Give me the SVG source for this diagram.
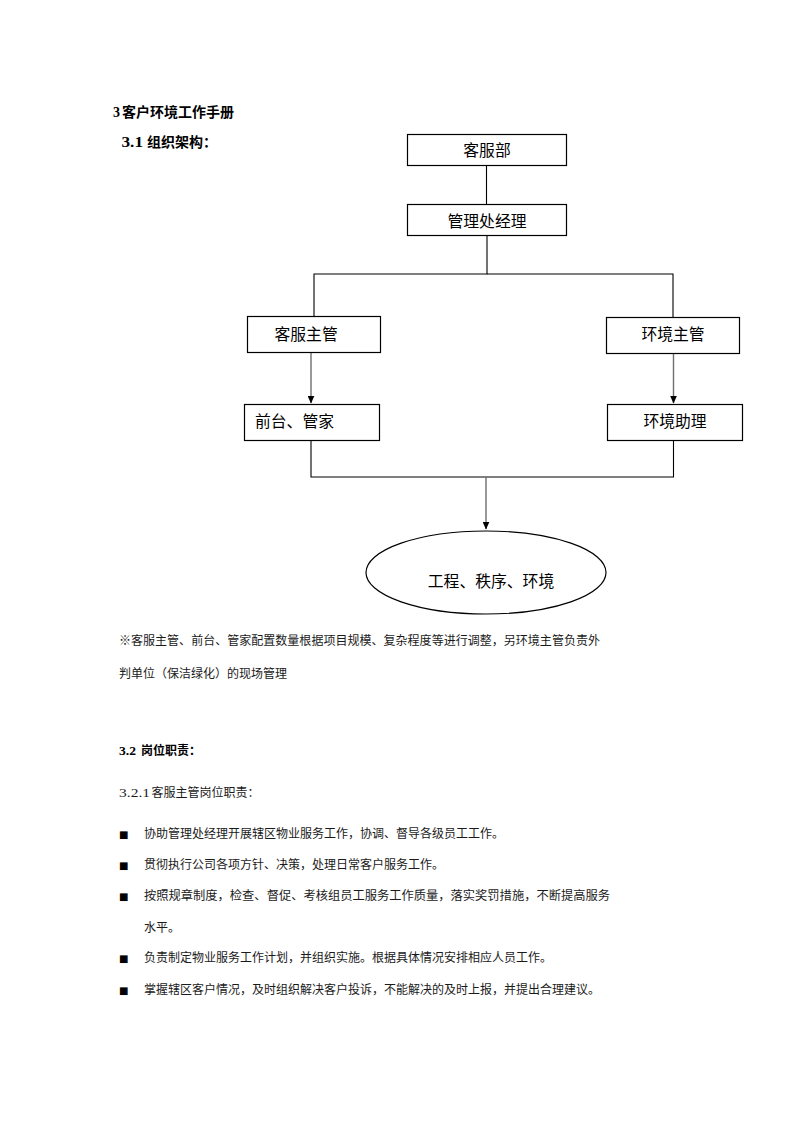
<svg xmlns="http://www.w3.org/2000/svg" width="793" height="1122" viewBox="0 0 793 1122">
<style>
.bg{fill:#ffffff}
.box{fill:#ffffff;stroke:#000000;stroke-width:1.2}
.lbl{font-family:"Liberation Sans","Noto Sans CJK SC",sans-serif;font-size:15.8px;fill:#000000}
.conn{fill:none;stroke:#000000;stroke-width:1.1}
.arr{fill:none;stroke:#6e6e6e;stroke-width:1.4}
.body{font-family:"Liberation Serif","Noto Sans CJK SC",serif;font-size:12px;fill:#1a1a1a}
.head{font-family:"Liberation Serif","Noto Sans CJK SC",serif;font-weight:bold;fill:#000000}
.bul{font-family:"DejaVu Sans",sans-serif;font-size:10px;fill:#000000}
</style>
<defs>
<marker id="ah" markerWidth="8" markerHeight="7" refX="7.5" refY="3.5" orient="auto" markerUnits="userSpaceOnUse">
<path d="M0,0 L8,3.5 L0,7 Z" fill="#000000"/>
</marker>
</defs>
<rect class="bg" x="0" y="0" width="793" height="1122"/>

<text class="head" font-size="14" x="113" y="117">3</text>
<text class="head" font-size="14" x="122" y="117">客户环境工作手册</text>
<text class="head" font-size="14" x="121.5" y="147" textLength="21.5" lengthAdjust="spacingAndGlyphs">3.1</text>
<text class="head" font-size="14" x="147" y="147">组织架构：</text>

<g id="connectors">
<line class="conn" x1="486.5" y1="165" x2="486.5" y2="205"/>
<polyline class="conn" points="487,236 487,274 314,274 314,317"/>
<polyline class="conn" points="487,274 673,274 673,318"/>
<line class="arr" x1="311" y1="352" x2="311" y2="403" marker-end="url(#ah)"/>
<line class="arr" x1="673.5" y1="353" x2="673.5" y2="403" marker-end="url(#ah)"/>
<polyline class="conn" points="311,440 311,477 673.5,477 673.5,440"/>
<line class="arr" x1="486" y1="477" x2="486" y2="529" marker-end="url(#ah)"/>
</g>

<g id="node-kefubu">
<rect class="box" x="407.5" y="134.5" width="159" height="31"/>
<text class="lbl" x="487" y="156" text-anchor="middle">客服部</text>
</g>
<g id="node-jingli">
<rect class="box" x="407.5" y="204.5" width="159" height="31"/>
<text class="lbl" x="487" y="226.5" text-anchor="middle">管理处经理</text>
</g>
<g id="node-kefuzhuguan">
<rect class="box" x="247.5" y="316.5" width="133" height="36"/>
<text class="lbl" x="274.5" y="339.5">客服主管</text>
</g>
<g id="node-huanjingzhuguan">
<rect class="box" x="606.5" y="317.5" width="133" height="36"/>
<text class="lbl" x="673" y="339.5" text-anchor="middle">环境主管</text>
</g>
<g id="node-qiantai">
<rect class="box" x="244.5" y="404.5" width="135" height="36"/>
<text class="lbl" x="255" y="427">前台、管家</text>
</g>
<g id="node-huanjingzhuli">
<rect class="box" x="607.5" y="404.5" width="135" height="36"/>
<text class="lbl" x="675" y="427" text-anchor="middle">环境助理</text>
</g>
<g id="node-gongcheng">
<ellipse class="box" cx="486" cy="572.5" rx="120" ry="41.5"/>
<text class="lbl" x="491" y="587" text-anchor="middle">工程、秩序、环境</text>
</g>

<text class="body" x="119" y="645" textLength="481" lengthAdjust="spacingAndGlyphs">※客服主管、前台、管家配置数量根据项目规模、复杂程度等进行调整，另环境主管负责外</text>
<text class="body" x="119" y="678">判单位（保洁绿化）的现场管理</text>

<text class="head" font-size="12" x="119" y="755" textLength="17" lengthAdjust="spacingAndGlyphs">3.2</text>
<text class="head" font-size="12" x="141" y="755">岗位职责：</text>
<text class="body" x="119" y="797" textLength="31" lengthAdjust="spacingAndGlyphs">3.2.1</text>
<text class="body" x="151.5" y="797">客服主管岗位职责：</text>

<text class="bul" x="119" y="838">■</text>
<text class="body" x="144" y="838">协助管理处经理开展辖区物业服务工作，协调、督导各级员工工作。</text>
<text class="bul" x="119" y="869">■</text>
<text class="body" x="144" y="869">贯彻执行公司各项方针、决策，处理日常客户服务工作。</text>
<text class="bul" x="119" y="900">■</text>
<text class="body" x="144" y="900" textLength="466" lengthAdjust="spacingAndGlyphs">按照规章制度，检查、督促、考核组员工服务工作质量，落实奖罚措施，不断提高服务</text>
<text class="body" x="144" y="932">水平。</text>
<text class="bul" x="119" y="962">■</text>
<text class="body" x="144" y="962">负责制定物业服务工作计划，并组织实施。根据具体情况安排相应人员工作。</text>
<text class="bul" x="119" y="994">■</text>
<text class="body" x="144" y="994">掌握辖区客户情况，及时组织解决客户投诉，不能解决的及时上报，并提出合理建议。</text>
</svg>
